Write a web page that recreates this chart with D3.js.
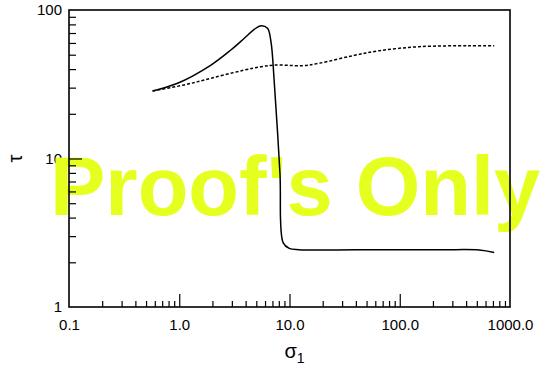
<!DOCTYPE html>
<html>
<head>
<meta charset="utf-8">
<script src="https://cdn.jsdelivr.net/npm/d3@7"></script>
<style>
  body { margin: 0; background: #fff; }
  text { font-family: "Liberation Sans", Arial, Helvetica, sans-serif; }
</style>
</head>
<body>
<div id="chart"></div>
<script>
// solid curve (sigma_1, tau)
const solidSigma = [0.573, 0.965, 1.94, 2.94, 3.89, 4.79, 5.51, 6.32, 6.79, 7.27, 8.19, 8.77, 9.95, 12.2, 40, 98.9, 250, 526, 719];
const solidTau   = [28.5, 32.1, 42.6, 53.8, 64.5, 74.1, 78.4, 75.3, 61.2, 32.9, 7.98, 2.70, 2.48, 2.43, 2.43, 2.43, 2.43, 2.42, 2.33];

// dashed curve
const dashSigma = [0.573, 1.11, 1.94, 3.89, 5.51, 7.27, 13.1, 18.6, 37.3, 65.2, 150, 427, 719];
const dashTau   = [28.5, 31.3, 34.7, 39.4, 41.5, 42.6, 42.2, 43.8, 49.2, 53.2, 56.6, 57.5, 57.5];

const xMajor = [0.1, 1, 10, 100, 1000];
const xTickLabels = ["0.1", "1.0", "10.0", "100.0", "1000.0"];
const yMajor = [1, 10, 100];
const yTickLabels = ["1", "10", "100"];

const margin = {top: 10, right: 37, bottom: 66, left: 69},
      width = 547 - margin.left - margin.right,
      height = 373 - margin.top - margin.bottom;

const svg = d3.select("#chart")
              .append("svg")
              .attr("width", 547)
              .attr("height", 373)
            .append("g")
              .attr("transform", `translate(${margin.left},${margin.top})`);

const x = d3.scaleLog().domain([0.1, 1000]).range([0, width]);
const y = d3.scaleLog().domain([1, 100]).range([height, 0]);

// minor ticks 2..9 per decade
const xMinor = [];
[0.1, 1, 10, 100].forEach(d => { for (let k = 2; k <= 9; k++) xMinor.push(d * k); });
const yMinor = [];
[1, 10].forEach(d => { for (let k = 2; k <= 9; k++) yMinor.push(d * k); });

// labels first (watermark covers them)
svg.append("g")
   .attr("transform", `translate(0,${height})`)
   .call(d3.axisBottom(x).tickValues(xMajor).tickSize(0).tickPadding(12)
           .tickFormat((d, i) => xTickLabels[i]))
   .call(g => g.select(".domain").remove())
   .selectAll("text").style("font-size", "15px").attr("fill", "#000");

svg.append("g")
   .call(d3.axisLeft(y).tickValues(yMajor).tickSize(0).tickPadding(7)
           .tickFormat((d, i) => yTickLabels[i]))
   .call(g => g.select(".domain").remove())
   .selectAll("text").style("font-size", "15px").attr("fill", "#000");

// axis titles
svg.append("text")
   .attr("x", width / 2 + 5).attr("y", height + 51)
   .attr("text-anchor", "middle")
   .style("font-size", "20px")
   .text("σ")
   .append("tspan").attr("dy", 5).style("font-size", "14px").text("1");

svg.append("text")
   .attr("transform", `translate(${-47},${y(10)}) rotate(-90)`)
   .attr("text-anchor", "middle")
   .style("font-size", "20px")
   .text("τ");

// watermark
svg.append("text")
   .attr("x", 50 - margin.left).attr("y", 215 - margin.top)
   .style("font-size", "83px")
   .style("font-weight", "bold")
   .attr("fill", "#e5ff1f")
   .text("Proof's Only");

// ticks pointing inward
const tickStyle = g => {
  g.select(".domain").remove();
  g.selectAll("line").attr("stroke", "#000").attr("stroke-width", 1.2);
};
svg.append("g").attr("transform", `translate(0,${height})`)
   .call(d3.axisBottom(x).tickValues(xMinor).tickSize(-6).tickFormat(""))
   .call(tickStyle);
svg.append("g").attr("transform", `translate(0,${height})`)
   .call(d3.axisBottom(x).tickValues([1, 10, 100]).tickSize(-13).tickFormat(""))
   .call(tickStyle);
svg.append("g")
   .call(d3.axisLeft(y).tickValues(yMinor).tickSize(-7).tickFormat(""))
   .call(tickStyle);
svg.append("g")
   .call(d3.axisLeft(y).tickValues([10]).tickSize(-13).tickFormat(""))
   .call(tickStyle);

// frame
svg.append("rect")
   .attr("width", width).attr("height", height)
   .attr("fill", "none").attr("stroke", "#000").attr("stroke-width", 1.6);

const line = d3.line()
               .x(d => x(d[0]))
               .y(d => y(d[1]))
               .curve(d3.curveCatmullRom.alpha(0.5));

svg.append("path")
   .datum(solidSigma.map((s, i) => [s, solidTau[i]]))
   .attr("d", line)
   .attr("fill", "none").attr("stroke", "#000").attr("stroke-width", 1.5);

svg.append("path")
   .datum(dashSigma.map((s, i) => [s, dashTau[i]]))
   .attr("d", line)
   .attr("fill", "none").attr("stroke", "#000").attr("stroke-width", 1.5)
   .attr("stroke-dasharray", "3,2");
</script>
</body>
</html>
